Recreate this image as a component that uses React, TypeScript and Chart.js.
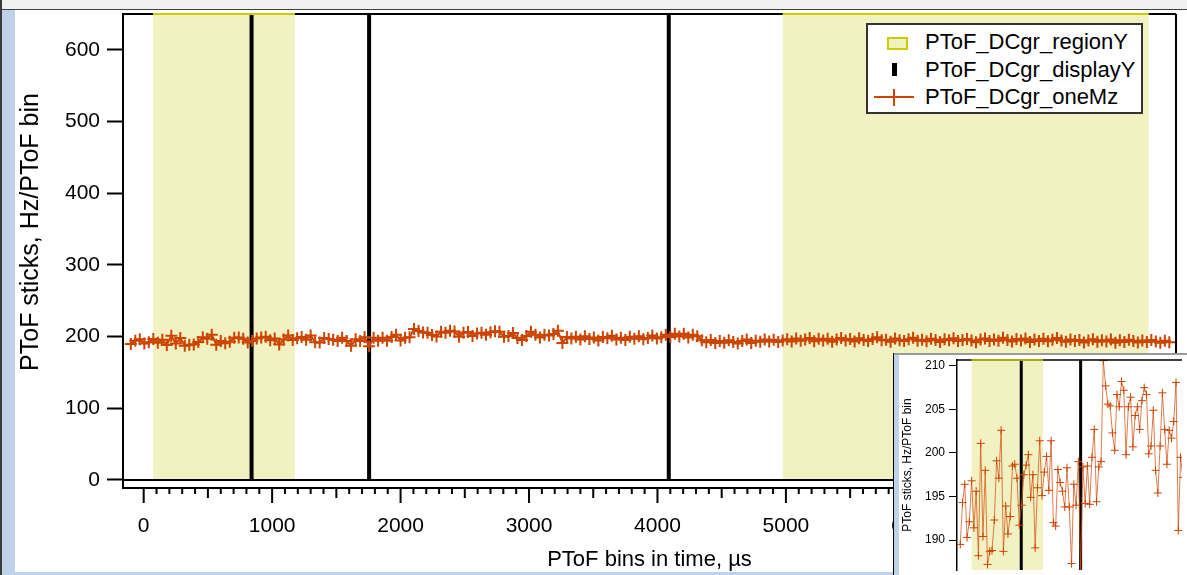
import React, { useEffect, useRef } from 'react';
import { Chart, registerables } from 'chart.js';

Chart.register(...registerables);

const FONT = '"Liberation Sans", Arial, Helvetica, sans-serif';
Chart.defaults.font.family = FONT;

// ---- data -------------------------------------------------------------
const BIN_START = -100; // first PToF bin centre, µs
const BIN_STEP = 35; // bin width, µs

// PToF_DCgr_oneMz (Hz / PToF bin)
const ONE_MZ_PART1 = [
  189.5, 194.3, 196.4, 190.3, 192.1, 196.8, 191.4, 195.6, 188.2, 201.1,
  190.4, 198.0, 187.2, 188.7, 188.8, 192.3, 199.1, 197.1, 202.6, 188.7,
  193.9, 190.7, 192.7, 198.5, 198.7, 197.1, 191.7, 194.0, 197.5, 198.6,
  199.8, 194.9, 197.5, 189.1, 196.0, 201.4, 195.1, 197.8, 199.6, 195.7,
  201.4, 192.0, 191.6, 198.1, 196.6, 195.6, 193.8, 198.3, 193.8, 187.3,
  196.4, 194.0, 199.0, 186.5, 198.4, 194.2, 198.5, 194.1, 199.5, 202.7,
  194.4, 198.4, 199.0,
];
const ONE_MZ_PART2 = [
  210.6, 207.7, 205.6, 205.4, 202.3, 200.3, 206.7, 205.3, 208.2, 207.2,
  199.8, 205.3, 206.4, 200.7, 204.3, 205.3, 202.7, 206.0, 207.5, 206.7,
  199.9, 200.8, 204.9, 198.0, 195.4, 200.8, 206.9, 202.7, 198.7, 202.6,
  201.7, 203.6, 208.1, 191.1, 199.5,
];
const ONE_MZ_PART3 = [
  197.2, 199.8, 195.9, 200.4, 196.8, 198.9, 194.7, 199.3, 197.6, 201.2,
  196.1, 198.5, 195.4, 199.9, 197.0, 200.6, 196.3, 198.2, 201.5, 197.4,
  199.1,
  202.4, 199.6, 203.8, 200.2, 204.1, 198.9, 202.7, 200.5,
  194.8, 192.1, 195.3, 190.9, 193.7, 191.5, 194.9, 192.6, 190.4, 193.9,
  195.8, 191.2, 194.3, 192.8, 196.0, 193.1, 195.5, 192.4, 194.6,
];
const ONE_MZ_PART4 = [
  196.3, 193.2, 197.5, 194.1, 195.8, 198.2, 193.6, 196.9, 194.4, 197.1,
  192.8, 195.9, 198.0, 194.7, 196.5, 193.3, 197.8, 195.2, 194.0, 196.7,
  199.1, 194.8, 195.6, 192.9, 197.3, 195.0, 193.8, 196.4, 198.3, 194.2,
  195.7, 193.5, 197.0, 195.4, 192.6, 196.2, 194.9, 197.6, 193.9, 195.3,
  196.8, 194.5, 192.2, 195.9, 197.4, 193.7, 196.1, 194.3, 198.5, 195.1,
  193.0, 196.6, 194.7, 197.2, 192.5, 195.8, 194.0, 196.9, 193.4, 195.5,
  197.9, 194.6, 192.7, 196.0, 193.9, 195.2, 191.8, 194.4, 196.3, 192.9,
  195.0, 193.2, 196.1, 191.5, 194.8, 192.3, 195.6, 193.8, 191.9, 194.5,
  192.6, 195.3, 193.1, 191.4, 194.2, 192.0,
];
const ONE_MZ = [...ONE_MZ_PART1, ...ONE_MZ_PART2, ...ONE_MZ_PART3, ...ONE_MZ_PART4];

// PToF_DCgr_regionY: shaded x ranges
const REGION_START = [72, 4975];
const REGION_END = [1177, 7825];
const REGION_TOP = 650;

// PToF_DCgr_displayY: sticks
const STICK_X = [840, 1755, 4088];

// axes
const MAIN_X_MIN = -161;
const MAIN_X_MAX = 8037;
const MAIN_Y_MIN = -11.2;
const MAIN_Y_MAX = 650;
const MAIN_Y_TICKS = [0, 100, 200, 300, 400, 500, 600];
const MAIN_X_LABELS = [0, 1000, 2000, 3000, 4000, 5000, 6000, 7000];
const MAIN_X_MINOR_FROM = 0;
const MAIN_X_MINOR_TO = 8000;
const MAIN_X_MINOR_STEP = 100;
const MAIN_X_TITLE = 'PToF bins in time, µs';
const Y_TITLE = 'PToF sticks, Hz/PToF bin';

const INSET_X_MIN = -150;
const INSET_X_MAX = 3317;
const INSET_Y_MIN = 186.56;
const INSET_Y_MAX = 210.67;
const INSET_Y_TICKS = [190, 195, 200, 205, 210];

// ---- styles -------------------------------------------------------------
const ORANGE = '#CC4400';
const ORANGE_LINE_LIGHT = 'rgba(214,80,20,0.75)';
const REGION_FILL = '#F1F1C1';
const REGION_EDGE = '#CCCC00';
const WIN_BLUE = '#BED3EA';

const oneMzPoints = ONE_MZ.map((y, i) => ({ x: BIN_START + BIN_STEP * i, y }));

function regionPoints() {
  const pts: { x: number; y: number | null }[] = [];
  REGION_START.forEach((s, i) => {
    if (i > 0) pts.push({ x: (REGION_END[i - 1] + s) / 2, y: null });
    pts.push({ x: s, y: REGION_TOP }, { x: REGION_END[i], y: REGION_TOP });
  });
  return pts;
}

function stickPoints() {
  const pts: { x: number; y: number | null }[] = [];
  STICK_X.forEach((x) => {
    pts.push({ x, y: 0 }, { x, y: REGION_TOP }, { x: x + 1, y: null });
  });
  return pts;
}

function makeDatasets(inset: boolean) {
  return [
    {
      label: 'PToF_DCgr_regionY',
      data: regionPoints(),
      borderWidth: 0,
      borderColor: 'rgba(0,0,0,0)',
      backgroundColor: REGION_FILL,
      fill: 'origin',
      pointRadius: 0,
      spanGaps: false,
      order: 3,
    },
    {
      label: 'PToF_DCgr_displayY',
      data: stickPoints(),
      borderWidth: inset ? 3 : 4,
      borderColor: '#000',
      borderCapStyle: 'butt',
      fill: false,
      pointRadius: 0,
      spanGaps: false,
      order: 2,
    },
    {
      label: 'PToF_DCgr_oneMz',
      data: oneMzPoints,
      borderWidth: inset ? 1 : 2,
      borderColor: inset ? ORANGE_LINE_LIGHT : ORANGE,
      backgroundColor: ORANGE,
      pointStyle: 'cross',
      pointRadius: inset ? 4 : 6,
      pointBorderWidth: inset ? 1 : 2,
      pointBorderColor: ORANGE,
      fill: false,
      tension: 0,
      order: 1,
    },
  ];
}

function strokeLine(ctx: CanvasRenderingContext2D, x1: number, y1: number, x2: number, y2: number) {
  ctx.beginPath();
  ctx.moveTo(x1, y1);
  ctx.lineTo(x2, y2);
  ctx.stroke();
}

function drawTopFrame(chart: any, width: number) {
  const { ctx, chartArea: a, scales } = chart;
  const x = scales.x;
  ctx.lineWidth = width;
  ctx.strokeStyle = '#000';
  strokeLine(ctx, a.left, a.top, a.right, a.top);
  ctx.strokeStyle = REGION_EDGE;
  REGION_START.forEach((s, i) => {
    const p1 = Math.max(a.left, x.getPixelForValue(s));
    const p2 = Math.min(a.right, x.getPixelForValue(REGION_END[i]));
    if (p2 > p1) strokeLine(ctx, p1, a.top, p2, a.top);
  });
}

const mainFramePlugin = {
  id: 'mainFrame',
  afterDatasetsDraw(chart: any) {
    const { ctx, chartArea: a, scales } = chart;
    const x = scales.x;
    const y = scales.y;
    const y0 = y.getPixelForValue(0);
    ctx.save();
    ctx.strokeStyle = '#000';
    ctx.lineWidth = 2;
    strokeLine(ctx, a.left, y0, a.right, y0);
    strokeLine(ctx, a.right, a.top, a.right, y0);
    drawTopFrame(chart, 2);
    // x axis tick marks (major / half / minor)
    ctx.strokeStyle = '#000';
    ctx.lineWidth = 2;
    for (let v = MAIN_X_MINOR_FROM; v <= MAIN_X_MINOR_TO; v += MAIN_X_MINOR_STEP) {
      const px = x.getPixelForValue(v);
      if (px < a.left || px > a.right) continue;
      const len = v % 1000 === 0 ? 15 : v % 500 === 0 ? 10 : 6;
      strokeLine(ctx, px, a.bottom, px, a.bottom + len);
    }
    ctx.restore();
  },
};

const insetFramePlugin = {
  id: 'insetFrame',
  afterDatasetsDraw(chart: any) {
    const { ctx } = chart;
    ctx.save();
    drawTopFrame(chart, 1.5);
    ctx.restore();
  },
};

function zeroPadding(s: any) {
  s.paddingTop = 0;
  s.paddingBottom = 0;
  s.paddingLeft = 0;
  s.paddingRight = 0;
}

export default function App() {
  const mainRef = useRef<HTMLCanvasElement>(null);
  const insetRef = useRef<HTMLCanvasElement>(null);

  useEffect(() => {
    const main = new Chart(mainRef.current as HTMLCanvasElement, {
      type: 'line',
      data: { datasets: makeDatasets(false) as any },
      plugins: [mainFramePlugin],
      options: {
        responsive: false,
        animation: false,
        devicePixelRatio: 1,
        events: [],
        layout: { padding: { left: 16, top: 14, right: 11, bottom: 0 } },
        plugins: { legend: { display: false }, tooltip: { enabled: false } },
        scales: {
          x: {
            type: 'linear',
            min: MAIN_X_MIN,
            max: MAIN_X_MAX,
            afterFit: (s: any) => {
              s.height = 87;
              zeroPadding(s);
            },
            afterBuildTicks: (s: any) => {
              s.ticks = MAIN_X_LABELS.map((v) => ({ value: v }));
            },
            grid: { display: true, drawOnChartArea: false, drawTicks: true, tickLength: 15, tickColor: 'rgba(0,0,0,0)' },
            border: { display: true, color: '#000', width: 2 },
            ticks: {
              autoSkip: false,
              maxRotation: 0,
              minRotation: 0,
              padding: 11,
              color: '#000',
              font: { size: 21, family: FONT },
              callback: (v: any) => String(v),
            },
            title: {
              display: true,
              text: MAIN_X_TITLE,
              color: '#000',
              font: { size: 22, family: FONT },
              padding: { top: 0, bottom: 2 },
            },
          },
          y: {
            type: 'linear',
            min: MAIN_Y_MIN,
            max: MAIN_Y_MAX,
            afterFit: (s: any) => {
              s.width = 107;
              zeroPadding(s);
            },
            afterBuildTicks: (s: any) => {
              s.ticks = MAIN_Y_TICKS.map((v) => ({ value: v }));
            },
            grid: { display: true, drawOnChartArea: false, drawTicks: true, tickLength: 16, tickColor: '#000', tickWidth: 2 },
            border: { display: true, color: '#000', width: 2 },
            ticks: {
              padding: 7,
              color: '#000',
              font: { size: 21, family: FONT },
              callback: (v: any) => String(v),
            },
            title: { display: false },
          },
        },
      } as any,
    });

    const inset = new Chart(insetRef.current as HTMLCanvasElement, {
      type: 'line',
      data: { datasets: makeDatasets(true) as any },
      plugins: [insetFramePlugin],
      options: {
        responsive: false,
        animation: false,
        devicePixelRatio: 1,
        events: [],
        layout: { padding: { left: 0, top: 3, right: 0, bottom: 0 } },
        plugins: { legend: { display: false }, tooltip: { enabled: false } },
        scales: {
          x: {
            type: 'linear',
            display: false,
            min: INSET_X_MIN,
            max: INSET_X_MAX,
          },
          y: {
            type: 'linear',
            min: INSET_Y_MIN,
            max: INSET_Y_MAX,
            afterFit: (s: any) => {
              s.width = 58;
              zeroPadding(s);
            },
            afterBuildTicks: (s: any) => {
              s.ticks = INSET_Y_TICKS.map((v) => ({ value: v }));
            },
            grid: { display: true, drawOnChartArea: false, drawTicks: true, tickLength: 8, tickColor: '#000', tickWidth: 1 },
            border: { display: true, color: '#000', width: 1.5 },
            ticks: {
              padding: 4,
              color: '#000',
              font: { size: 12, family: FONT },
              callback: (v: any) => String(v),
            },
            title: {
              display: true,
              text: Y_TITLE,
              color: '#000',
              font: { size: 12, family: FONT },
              padding: { top: 1, bottom: 0 },
            },
          },
        },
      } as any,
    });

    return () => {
      main.destroy();
      inset.destroy();
    };
  }, []);

  const legendText: React.CSSProperties = {
    position: 'absolute',
    left: 57,
    height: 26,
    lineHeight: '26px',
    fontFamily: FONT,
    fontSize: 22,
    color: '#000',
    whiteSpace: 'nowrap',
  };

  return (
    <div
      style={{
        position: 'fixed',
        left: 0,
        top: 0,
        width: 1187,
        height: 575,
        overflow: 'hidden',
        background: '#fff',
      }}
    >
      <canvas
        ref={mainRef}
        width={1187}
        height={575}
        style={{ position: 'absolute', left: 0, top: 0, width: 1187, height: 575, display: 'block' }}
      />

      {/* main y axis title */}
      <div
        style={{
          position: 'absolute',
          left: 29 - 160,
          top: 232 - 15,
          width: 320,
          height: 30,
          lineHeight: '30px',
          textAlign: 'center',
          fontFamily: FONT,
          fontSize: 25,
          color: '#000',
          whiteSpace: 'nowrap',
          transform: 'rotate(-90deg)',
          transformOrigin: '50% 50%',
        }}
      >
        {Y_TITLE}
      </div>

      {/* main window chrome */}
      <div style={{ position: 'absolute', left: 0, top: 0, width: 1187, height: 9, background: '#F0F0F0' }} />
      <div style={{ position: 'absolute', left: 0, top: 9, width: 1187, height: 1, background: '#404040' }} />
      <div style={{ position: 'absolute', left: 0, top: 0, width: 2, height: 575, background: '#3A3A3A' }} />
      <div style={{ position: 'absolute', left: 2, top: 10, width: 13, height: 565, background: WIN_BLUE }} />
      <div style={{ position: 'absolute', left: 15, top: 572, width: 880, height: 3, background: WIN_BLUE }} />

      {/* legend */}
      <div
        style={{
          position: 'absolute',
          left: 866,
          top: 23,
          width: 277,
          height: 91,
          boxSizing: 'border-box',
          border: '2px solid #333',
          background: '#fff',
        }}
      >
        <div
          style={{
            position: 'absolute',
            left: 19,
            top: 12,
            width: 21,
            height: 13,
            boxSizing: 'border-box',
            border: `2px solid ${REGION_EDGE}`,
            background: REGION_FILL,
          }}
        />
        <div style={{ ...legendText, top: 4 }}>PToF_DCgr_regionY</div>
        <div style={{ position: 'absolute', left: 24, top: 38, width: 5, height: 13, background: '#000' }} />
        <div style={{ ...legendText, top: 32 }}>PToF_DCgr_displayY</div>
        <div style={{ position: 'absolute', left: 6, top: 71, width: 40, height: 2, background: ORANGE }} />
        <div style={{ position: 'absolute', left: 25, top: 64, width: 2, height: 17, background: ORANGE }} />
        <div style={{ ...legendText, top: 59 }}>PToF_DCgr_oneMz</div>
      </div>

      {/* inset window */}
      <div
        style={{
          position: 'absolute',
          left: 893,
          top: 353,
          width: 294,
          height: 222,
          background: '#fff',
          overflow: 'hidden',
        }}
      >
        <div style={{ position: 'absolute', left: 0, top: 0, width: 294, height: 2, background: '#9A9A9A' }} />
        <div style={{ position: 'absolute', left: 0, top: 0, width: 1, height: 222, background: '#000' }} />
        <div style={{ position: 'absolute', left: 1, top: 2, width: 5, height: 220, background: WIN_BLUE }} />
        <canvas
          ref={insetRef}
          width={288}
          height={220}
          style={{ position: 'absolute', left: 6, top: 2, width: 288, height: 220, display: 'block' }}
        />
      </div>
    </div>
  );
}
